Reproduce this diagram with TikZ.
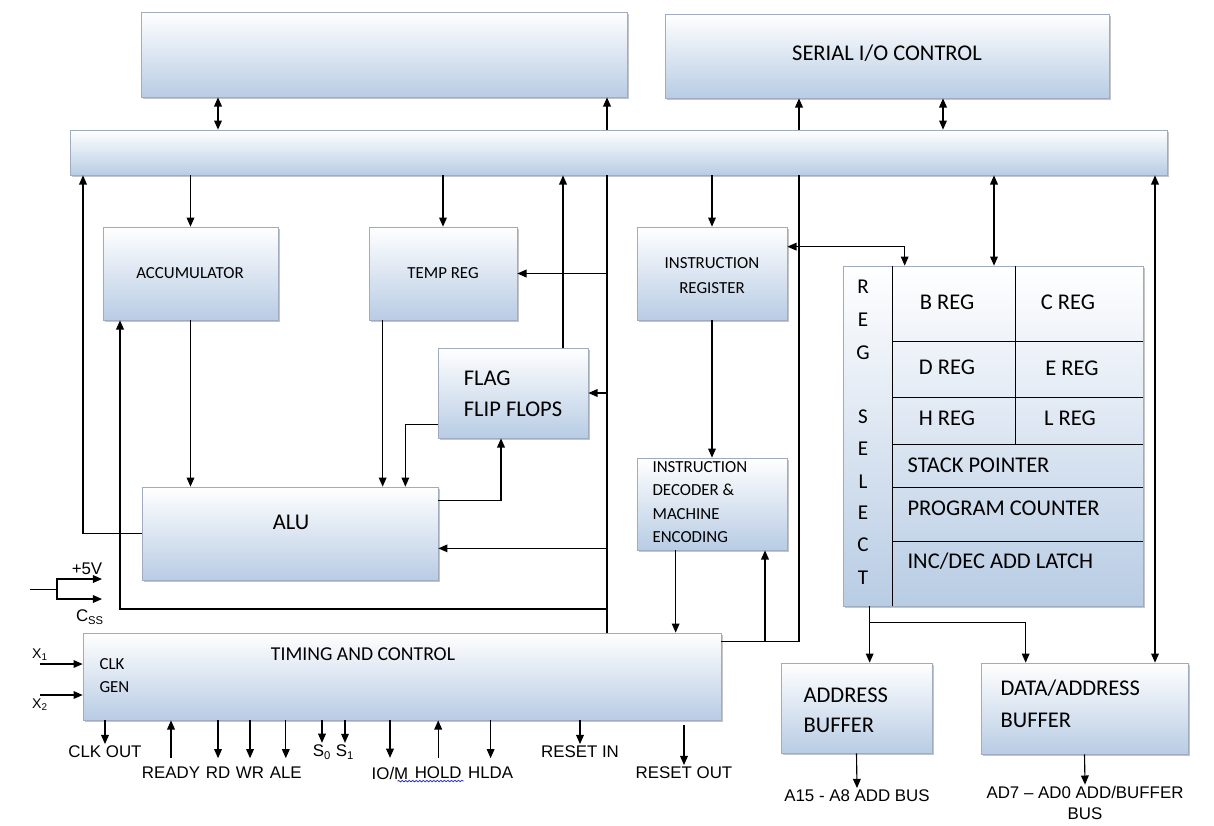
\documentclass[tikz,border=0pt]{standalone}
\usepackage{fontspec}
\setmainfont{Carlito}
\newfontfamily\pinfont{Liberation Sans}
\usepackage{tikz}
\usetikzlibrary{positioning, fit, shadows, arrows.meta, decorations.pathmorphing}

\definecolor{boxblue}{RGB}{184,204,228}
\definecolor{boxedge}{RGB}{160,172,190}
\definecolor{spellblue}{RGB}{40,60,200}

\tikzset{
  blk/.style={draw=boxedge, line width=0.5pt, top color=white, bottom color=boxblue, inner sep=0pt,
    drop shadow={shadow xshift=1.5pt, shadow yshift=-1.5pt, fill=black!45, opacity=0.5}},
  bigtxt/.style={font=\fontsize{16}{20}\selectfont},
  smalltxt/.style={font=\fontsize{12}{15}\selectfont},
  pintxt/.style={font=\pinfont\fontsize{12}{14}\selectfont, inner sep=1pt},
  pinfar/.style={shorten >=5pt},
}

\begin{document}
\begin{tikzpicture}[x=0.025cm, y=-0.025cm, line width=0.8pt, >={Triangle[length=6.5pt,width=5.5pt]}]
	\useasboundingbox (0,0) rectangle (1214,825);

	% Define the blocks
	\node[blk, fit={(141,12) (627,97)}] (top) {};
	\node[blk, fit={(665,14) (1109,98)}] (sio) {};
	\node[bigtxt] (siotxt) at (887,53) {SERIAL I/O CONTROL};
	\node[blk, fit={(70,130) (1167,175)}] (bus) {};
	\node[blk, fit={(103,227) (278,320)}] (acc) {};
	\node[smalltxt] (acctxt) at (190,273) {ACCUMULATOR};
	\node[blk, fit={(369,227) (517,320)}] (temp) {};
	\node[smalltxt] (temptxt) at (443,273) {TEMP REG};
	\node[blk, fit={(637,227) (787,320)}] (ir) {};
	\node[align=center, font=\fontsize{12}{17.8}\selectfont] (irtxt) at (712,276) {INSTRUCTION\\REGISTER};
	\node[blk, fit={(438,348) (588,438)}] (flag) {};
	\node[align=left, font=\fontsize{16}{22}\selectfont] (flagtxt) at (513,394) {FLAG\\FLIP FLOPS};
	\node[blk, fit={(142,487) (438,580)}] (alu) {};
	\node[bigtxt] (alutxt) at (291,522) {ALU};
	\node[blk, fit={(637,458) (787,550)}] (dec) {};
	\node[align=left, anchor=west, inner sep=0pt, font=\fontsize{12}{16.6}\selectfont] (dectxt) at (652,502) {INSTRUCTION\\DECODER \&\\MACHINE\\ENCODING};
	\node[blk, fit={(83,633) (721,720)}] (timing) {};
	\node[font=\fontsize{14}{16}\selectfont] (tctxt) at (363,654) {TIMING AND CONTROL};
	\node[align=left, anchor=west, inner sep=0pt, font=\fontsize{12}{16.4}\selectfont] (clkgen) at (99,676) {CLK\\GEN};
	\node[blk, fit={(781,663) (932,753)}] (abuf) {};
	\node[align=left, anchor=west, inner sep=0pt, font=\fontsize{16}{21.3}\selectfont] (abuftxt) at (803,710) {ADDRESS\\BUFFER};
	\node[blk, fit={(981,663) (1188,754)}] (dbuf) {};
	\node[align=left, anchor=west, inner sep=0pt, font=\fontsize{16}{22.8}\selectfont] (dbuftxt) at (1000,704) {DATA/ADDRESS\\BUFFER};

	% Register array
	\node[blk, fit={(843,266) (1143,606)}] (regblk) {};
	\draw[line width=0.7pt] (892,266) -- (892,606);
	\draw[line width=0.7pt] (1015,266) -- (1015,444);
	\foreach \yy in {341,397,444,487,541}
		\draw[line width=0.7pt] (892,\yy) -- (1143,\yy);
	\foreach \ch/\yy in {R/287, E/320, G/353, S/417, E/449, L/482, E/513, C/545, T/578}
		\node[font=\fontsize{15}{18}\selectfont] (sel\yy) at (863,\yy) {\ch};
	\node[bigtxt] (breg) at (947,302) {B REG};
	\node[bigtxt] (creg) at (1068,302) {C REG};
	\node[bigtxt] (dreg) at (947,367) {D REG};
	\node[bigtxt] (ereg) at (1072,368) {E REG};
	\node[bigtxt] (hreg) at (947,418) {H REG};
	\node[bigtxt] (lreg) at (1070,418) {L REG};
	\node[bigtxt, anchor=west, inner sep=0pt] (sp) at (907,465) {STACK POINTER};
	\node[bigtxt, anchor=west, inner sep=0pt] (pc) at (907,508) {PROGRAM COUNTER};
	\node[bigtxt, anchor=west, inner sep=0pt] (incdec) at (907,561) {INC/DEC ADD LATCH};

	% Pins of the timing block
	\node[pintxt] (clkout) at (105,752) {CLK OUT};
	\node[pintxt] (ready) at (171,773) {READY};
	\node[pintxt, right=1.3pt of ready] (rd) {RD};
	\node[pintxt, right=1.3pt of rd] (wr) {WR};
	\node[pintxt, right=1.3pt of wr] (ale) {ALE};
	\node[pintxt] (s0) at (322,752) {S\textsubscript{0}};
	\node[pintxt] (s1) at (345,752) {S\textsubscript{1}};
	\node[pintxt] (iom) at (390,773) {IO/M};
	\node[pintxt, right=1.8pt of iom] (hold) {HOLD};
	\node[pintxt, right=1.8pt of hold] (hlda) {HLDA};
	\node[pintxt] (rin) at (580,752) {RESET IN};
	\node[pintxt] (rout) at (684,773) {RESET OUT};
	\node[pintxt] (abus) at (857,796) {A15 - A8 ADD BUS};
	\node[pintxt, align=center, font=\pinfont\fontsize{12}{14.5}\selectfont] (dbus) at (1085,803) {AD7 – AD0 ADD/BUFFER\\BUS};
	\coordinate (xin1) at (40,664);
	\coordinate (xin2) at (40,695);
	\node[pintxt, font=\pinfont\fontsize{10}{12}\selectfont, above=1pt of xin1] (x1) {X\textsubscript{1}};
	\node[pintxt, font=\pinfont\fontsize{10}{12}\selectfont, below=1pt of xin2] (x2) {X\textsubscript{2}};
	\coordinate (vin) at (30,589);
	\node[pintxt] (vplus) at (87,569) {+5V};
	\node[pintxt] (css) at (90,617) {C\textsubscript{SS}};

	% Wire positions
	\coordinate (wleft) at (83,0);
	\coordinate (wctl) at (607,0);
	\coordinate (wsio) at (799,0);
	\coordinate (wdec) at (765,0);
	\coordinate (wflag) at (563,0);
	\coordinate (wdata) at (1155,0);
	\coordinate (dtop) at (218,0);
	\coordinate (dsio) at (943,0);
	\coordinate (dreg) at (994,0);
	\coordinate (loop) at (120,609);

	% Top blocks and the bus
	\draw[<->] (dtop |- top.south) -- (dtop |- bus.north);
	\draw[->] (wctl |- bus.north) -- (wctl |- top.south);
	\draw[->] (wsio |- bus.north) -- (wsio |- sio.south);
	\draw[<->] (dsio |- sio.south) -- (dsio |- bus.north);

	% Bus to the blocks below
	\draw[->] (bus.south -| acc.north) -- (acc.north);
	\draw[->] (bus.south -| temp.north) -- (temp.north);
	\draw[->] (bus.south -| ir.north) -- (ir.north);
	\draw[<->] (dreg |- bus.south) -- (dreg |- regblk.north);
	\draw[<->] (wdata |- bus.south) -- (wdata |- dbuf.north);
	\draw[->] (wflag |- flag.north) -- (wflag |- bus.south);
	\draw[->] (alu.west) -| (wleft |- bus.south);

	% Control wire
	\draw (wctl |- bus.south) -- (wctl |- timing.north);
	\draw[->] (wctl |- temp.east) -- (temp.east);
	\draw[->] (wctl |- flag.east) -- (flag.east);
	\draw[<-] ([yshift=0.8cm]alu.south east) coordinate (aluin) -- (aluin -| wctl);
	\draw[->] (wctl |- loop) -- (loop) -- (loop |- acc.south);

	% ALU, accumulator, temp reg and flags
	\draw[->] (acc.south) -- (acc.south |- alu.north);
	\draw[->] ([xshift=0.35cm]temp.south west) coordinate (tmpout) -- (tmpout |- alu.north);
	\draw[->] ([yshift=0.35cm]flag.south west) -| ([xshift=-0.825cm]alu.north east);
	\draw[->] ([yshift=-0.35cm]alu.north east) -| ([xshift=-0.3cm]flag.south);

	% Instruction path
	\draw[->] (ir.south) -- (dec.north);
	\draw[->] ([xshift=0.975cm]dec.south west) coordinate (decout) -- (decout |- timing.north);
	\draw ([yshift=-0.225cm]timing.north east) coordinate (tcout) -- (tcout -| wsio) -- (wsio |- bus.south);
	\draw[->] (tcout -| wdec) -- (wdec |- dec.south);
	\draw[<->] ([yshift=-0.5cm]ir.north east) -| ([xshift=1.55cm]regblk.north west);

	% Registers to the buffers
	\draw[->] ([xshift=0.675cm]regblk.south west) coordinate (regout) -- (regout |- abuf.north);
	\draw[->] ([yshift=-0.4cm]regout) -| ([xshift=1.125cm]dbuf.north west);
	\draw[->] (abuf.south) -- (abus.north);
	\draw[->] (dbuf.south) -- (dbus.north);

	% Clock inputs and supply
	\draw[->] (xin1) -- (xin1 -| timing.west);
	\draw[->] (xin2) -- (xin2 -| timing.west);
	\draw[line width=0.6pt] (vin) -- ++(27,0) coordinate (vfork);
	\draw[->] (vfork) -- ++(0,-10) -- ++(45,0);
	\draw[->] (vfork) -- ++(0,10) -- ++(45,0);

	% Pin arrows
	\draw[->] (timing.south -| clkout.north) -- (clkout.north);
	\foreach \p in {s0, s1, rin}
		\draw[->] (timing.south -| \p.north) -- (\p.north);
	\foreach \p in {rd, wr, ale, iom, hlda}
		\draw[->, pinfar] (timing.south -| \p.north) -- (\p.north);
	\foreach \p in {ready, hold}
		\draw[->, shorten <=5pt] (\p.north) -- (\p.north |- timing.south);
	\draw[->] ([yshift=-0.125cm]timing.south -| rout.north) -- (rout.north);
	\draw[spellblue, line width=0.6pt, decorate, decoration={snake, amplitude=0.5pt, segment length=2.5pt}]
		([xshift=-9pt]iom.south east) -- (hold.south east);
\end{tikzpicture}
\end{document}
